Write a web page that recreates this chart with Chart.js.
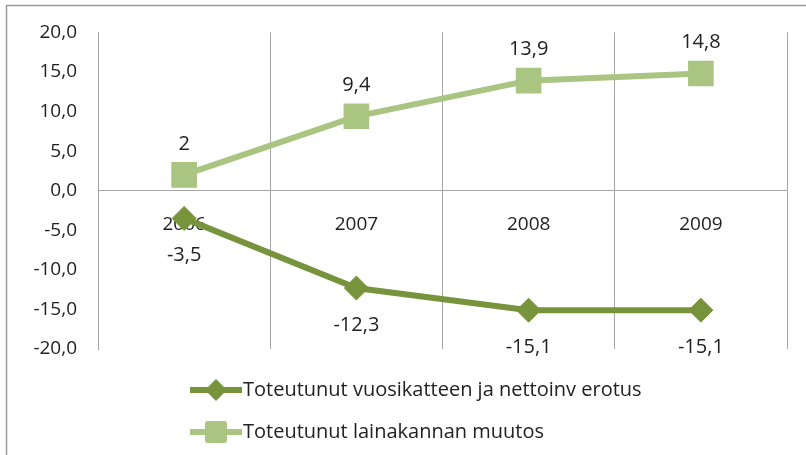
<!DOCTYPE html>
<html>
<head>
<meta charset="utf-8">
<script src="https://cdn.jsdelivr.net/npm/chart.js@4/dist/chart.umd.min.js"></script>
<style>
  html, body { margin: 0; padding: 0; background: #fff; }
  #wrap { width: 806px; height: 455px; position: relative; }
</style>
</head>
<body>
<div id="wrap"><canvas id="LoanChart" width="806" height="455"></canvas></div>
<script>
// values
const years = ["2006", "2007", "2008", "2009"];
const erotus = [-3.5, -12.3, -15.1, -15.1];
const lainakanta = [2, 9.4, 13.9, 14.8];
const yTicks = [-20, -15, -10, -5, 0, 5, 10, 15, 20];

const darkGreen = "#77933c";
const lightGreen = "#aac482";
const gridGray = "#a6a6a6";
const textColor = "#222";
const font = "Open Sans";

const fmt = v => String(v).replace(".", ",");

// frame round the chart (only left and top edge are visible)
const framePlugin = {
    id: "frame",
    beforeDraw(chart) {
        const ctx = chart.ctx;
        ctx.save();
        ctx.strokeStyle = "#9a9a9a";
        ctx.lineWidth = 1.5;
        ctx.beginPath();
        ctx.moveTo(6.5, chart.height);
        ctx.lineTo(6.5, 5.5);
        ctx.lineTo(chart.width, 5.5);
        ctx.stroke();
        ctx.restore();
    }
};

// value labels, above for one series and below for the other
const valueLabels = {
    id: "valueLabels",
    afterDatasetsDraw(chart, args, opts) {
        const ctx = chart.ctx;
        ctx.save();
        ctx.font = "20px '" + font + "'";
        ctx.fillStyle = textColor;
        ctx.textAlign = "center";
        ctx.textBaseline = "middle";
        chart.data.datasets.forEach((ds, i) => {
            const dy = opts.offsets[i];
            chart.getDatasetMeta(i).data.forEach((pt, j) => {
                ctx.fillText(fmt(ds.data[j]), pt.x, pt.y + dy);
            });
        });
        ctx.restore();
    }
};

// legend with line + marker, like the spreadsheet one
const lineLegend = {
    id: "lineLegend",
    afterDraw(chart) {
        const ctx = chart.ctx;
        const x0 = 190, rows = [390, 432];
        ctx.save();
        chart.data.datasets.forEach((ds, i) => {
            const y = rows[i];
            ctx.strokeStyle = ds.borderColor;
            ctx.lineWidth = 6;
            ctx.beginPath();
            ctx.moveTo(x0, y);
            ctx.lineTo(x0 + 52, y);
            ctx.stroke();
            ctx.fillStyle = ds.pointBackgroundColor;
            if (ds.pointStyle === "rectRot") {
                ctx.beginPath();
                ctx.moveTo(x0 + 26, y - 11);
                ctx.lineTo(x0 + 37, y);
                ctx.lineTo(x0 + 26, y + 11);
                ctx.lineTo(x0 + 15, y);
                ctx.closePath();
                ctx.fill();
            } else {
                ctx.beginPath();
                ctx.roundRect(x0 + 15, y - 11, 22, 22, 3);
                ctx.fill();
            }
            ctx.fillStyle = textColor;
            ctx.font = "20px '" + font + "'";
            ctx.textAlign = "left";
            ctx.textBaseline = "middle";
            ctx.fillText(ds.label, x0 + 53, y);
        });
        ctx.restore();
    }
};

new Chart("LoanChart", {
    type: "line",
    data: {
        labels: years,
        datasets: [{
            label: "Toteutunut vuosikatteen ja nettoinv erotus",
            data: erotus,
            borderColor: darkGreen,
            backgroundColor: darkGreen,
            pointBackgroundColor: darkGreen,
            pointBorderColor: darkGreen,
            borderWidth: 6,
            pointStyle: "rectRot",
            pointRadius: 12,
            pointBorderWidth: 1,
            tension: 0,
            fill: false
        }, {
            label: "Toteutunut lainakannan muutos",
            data: lainakanta,
            borderColor: lightGreen,
            backgroundColor: lightGreen,
            pointBackgroundColor: lightGreen,
            pointBorderColor: lightGreen,
            borderWidth: 6,
            pointStyle: "rect",
            pointRadius: 16,
            pointBorderWidth: 3,
            tension: 0,
            fill: false
        }]
    },
    options: {
        responsive: false,
        animation: false,
        layout: {
            padding: { top: 29, bottom: 106, left: 0, right: 15 }
        },
        plugins: {
            legend: { display: false },
            tooltip: { enabled: false },
            valueLabels: { offsets: [37, -31] }
        },
        scales: {
            x: {
                type: "category",
                position: { y: 0 },
                offset: true,
                grid: { offset: true, color: gridGray, drawTicks: false },
                border: { display: true, color: gridGray },
                ticks: {
                    padding: 22,
                    color: textColor,
                    font: { family: font, size: 19 }
                }
            },
            y: {
                min: -20,
                max: 20,
                afterBuildTicks: s => { s.ticks = yTicks.map(v => ({ value: v })); },
                afterFit: s => { s.width = 98; },
                grid: { display: false, drawTicks: false },
                border: { display: true, color: gridGray },
                ticks: {
                    padding: 21,
                    color: textColor,
                    font: { family: font, size: 19 },
                    callback: v => v.toFixed(1).replace(".", ",")
                }
            }
        }
    },
    plugins: [framePlugin, valueLabels, lineLegend]
});
</script>
</body>
</html>
